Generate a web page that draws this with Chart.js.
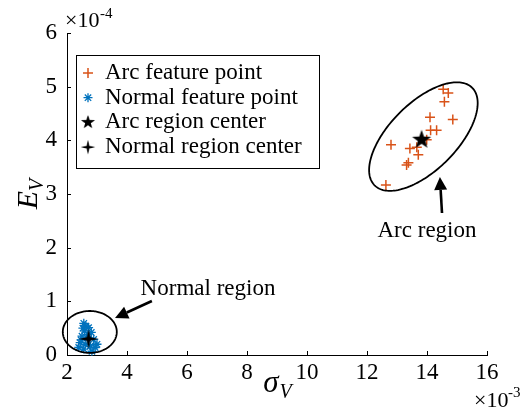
<!DOCTYPE html>
<html>
<head>
<meta charset="utf-8">
<script src="https://cdn.jsdelivr.net/npm/chart.js@4.4.0/dist/chart.umd.min.js"></script>
<style>
  html, body { margin: 0; padding: 0; background: #fff; }
  #wrap { width: 530px; height: 417px; }
</style>
</head>
<body>
<div id="wrap"><canvas id="c" width="530" height="417"></canvas></div>
<script>
// sigma_V in units of 1e-3, E_V in units of 1e-4
const arcSigma = [14.54, 14.71, 14.58, 14.10, 14.86, 14.12, 14.32, 13.99, 12.80, 13.43, 13.66, 13.71, 13.38, 13.32, 12.63];
const arcE     = [4.95, 4.88, 4.72, 4.43, 4.39, 4.19, 4.19, 4.01, 3.92, 3.85, 3.87, 3.73, 3.58, 3.54, 3.17];
const normalSigma = [2.56, 2.63, 2.72, 2.59, 2.81, 2.50, 2.67, 2.89, 2.44, 2.61, 2.39, 2.56, 2.78, 2.94, 3.00, 2.83, 2.53, 2.70, 2.47];
const normalE     = [0.59, 0.54, 0.51, 0.45, 0.42, 0.35, 0.32, 0.29, 0.23, 0.20, 0.14, 0.11, 0.17, 0.14, 0.20, 0.07, 0.50, 0.38, 0.28];
const arcCenter = [13.82, 4.01];
const normalCenter = [2.72, 0.30];
const xTicks = [2, 4, 6, 8, 10, 12, 14, 16];
const yTicks = [0, 1, 2, 3, 4, 5, 6];
const seriesLabels = ['Arc feature point', 'Normal feature point', 'Arc region center', 'Normal region center'];

const ORANGE = '#D95319';
const BLUE = '#0072BD';
const SERIF = '"Liberation Serif", "Times New Roman", serif';

// region outlines: centre plus two conjugate semi-diameters, in axis units
const regions = [
  { c: [13.88, 4.07], u: [1.627, 0.909], v: [-0.792, 0.443] },
  { c: [2.76, 0.43], u: [0.90, 0.0], v: [0.0, 0.39] }
];
const arrows = [
  { from: [4.83, 1.006], to: [3.60, 0.69] },
  { from: [14.50, 2.646], to: [14.43, 3.317] }
];
const notes = [
  { text: 'Normal region', at: [6.70, 1.23] },
  { text: 'Arc region', at: [14.00, 2.31] }
];

function starImage(points, outer, inner) {
  const s = Math.ceil(outer * 2 + 2);
  const cv = document.createElement('canvas');
  cv.width = cv.height = s;
  const g = cv.getContext('2d');
  g.translate(s / 2, s / 2);
  g.beginPath();
  for (let i = 0; i < points * 2; i++) {
    const r = i % 2 ? inner : outer;
    const a = -Math.PI / 2 + i * Math.PI / points;
    g.lineTo(r * Math.cos(a), r * Math.sin(a));
  }
  g.closePath();
  g.fillStyle = '#000';
  g.fill();
  return cv;
}
const pentagram = starImage(5, 10, 4);
const sparkle = starImage(4, 10, 2.6);

const toPts = (xs, ys) => xs.map((x, i) => ({ x: x, y: ys[i] }));

const overlay = {
  id: 'overlay',
  afterDraw(chart) {
    const ctx = chart.ctx;
    const xs = chart.scales.x, ys = chart.scales.y;
    const area = chart.chartArea;
    const X = v => xs.getPixelForValue(v), Y = v => ys.getPixelForValue(v);
    ctx.save();

    // inward tick marks
    ctx.strokeStyle = '#000';
    ctx.lineWidth = 1;
    ctx.beginPath();
    xTicks.forEach(v => { const p = Math.round(X(v)) + 0.5; ctx.moveTo(p, area.bottom); ctx.lineTo(p, area.bottom - 4); });
    yTicks.forEach(v => { const p = Math.round(Y(v)) + 0.5; ctx.moveTo(area.left, p); ctx.lineTo(area.left + 4, p); });
    ctx.stroke();

    // region outlines
    ctx.lineWidth = 1.8;
    regions.forEach(r => {
      ctx.beginPath();
      for (let i = 0; i <= 180; i++) {
        const t = i / 180 * Math.PI * 2;
        const dx = r.u[0] * Math.cos(t) + r.v[0] * Math.sin(t);
        const dy = r.u[1] * Math.cos(t) + r.v[1] * Math.sin(t);
        const px = X(r.c[0] + dx), py = Y(r.c[1] + dy);
        if (i === 0) ctx.moveTo(px, py); else ctx.lineTo(px, py);
      }
      ctx.closePath();
      ctx.stroke();
    });

    // arrows
    arrows.forEach(a => {
      const x0 = X(a.from[0]), y0 = Y(a.from[1]), x1 = X(a.to[0]), y1 = Y(a.to[1]);
      const ang = Math.atan2(y1 - y0, x1 - x0);
      const L = 13, W = 6.5;
      const bx = x1 - L * Math.cos(ang), by = y1 - L * Math.sin(ang);
      ctx.lineWidth = 2.6;
      ctx.beginPath();
      ctx.moveTo(x0, y0);
      ctx.lineTo(bx, by);
      ctx.stroke();
      ctx.beginPath();
      ctx.moveTo(x1, y1);
      ctx.lineTo(bx - W * Math.sin(ang), by + W * Math.cos(ang));
      ctx.lineTo(bx + W * Math.sin(ang), by - W * Math.cos(ang));
      ctx.closePath();
      ctx.fillStyle = '#000';
      ctx.fill();
    });

    // region notes
    ctx.fillStyle = '#000';
    ctx.font = '23px ' + SERIF;
    ctx.textAlign = 'center';
    ctx.textBaseline = 'middle';
    notes.forEach(n => ctx.fillText(n.text, X(n.at[0]), Y(n.at[1])));

    // legend
    const lx = area.left + 9, ly = area.top + 22, lw = 243, lh = 113;
    ctx.fillStyle = '#fff';
    ctx.fillRect(lx, ly, lw, lh);
    ctx.strokeStyle = '#000';
    ctx.lineWidth = 1;
    ctx.strokeRect(lx + 0.5, ly + 0.5, lw, lh);
    const legendRadius = [5, 4.5, 8, 8];
    chart.data.datasets.forEach((ds, i) => {
      const cy = ly + 18 + i * 24.7;
      const mx = lx + 12;
      ctx.save();
      ctx.strokeStyle = ds.borderColor;
      ctx.fillStyle = ds.backgroundColor;
      ctx.lineWidth = ds.borderWidth;
      if (ds.pointStyle instanceof HTMLCanvasElement) {
        const r = legendRadius[i];
        ctx.drawImage(ds.pointStyle, mx - r, cy - r, 2 * r, 2 * r);
      } else {
        Chart.helpers.drawPoint(ctx, { pointStyle: ds.pointStyle, rotation: 0, radius: legendRadius[i], borderWidth: ds.borderWidth }, mx, cy);
      }
      ctx.restore();
      ctx.fillStyle = '#000';
      ctx.font = '23px ' + SERIF;
      ctx.textAlign = 'left';
      ctx.textBaseline = 'middle';
      ctx.fillText(ds.label, lx + 29, cy);
    });

    // axis titles
    const cxm = (area.left + area.right) / 2;
    ctx.textAlign = 'left';
    ctx.textBaseline = 'alphabetic';
    ctx.font = 'italic 31px ' + SERIF;
    const sw = ctx.measureText('\u03C3').width;
    ctx.font = 'italic 20px ' + SERIF;
    const vw = ctx.measureText('V').width;
    let sx = cxm - (sw + vw) / 2;
    ctx.font = 'italic 31px ' + SERIF;
    ctx.fillText('\u03C3', sx, area.bottom + 37);
    ctx.font = 'italic 20px ' + SERIF;
    ctx.fillText('V', sx + sw + 1, area.bottom + 43);

    ctx.save();
    ctx.translate(area.left - 30, (area.top + area.bottom) / 2);
    ctx.rotate(-Math.PI / 2);
    ctx.font = 'italic 30px ' + SERIF;
    const ew = ctx.measureText('E').width;
    ctx.font = 'italic 20px ' + SERIF;
    const vw2 = ctx.measureText('V').width;
    const ex = -(ew + vw2) / 2;
    ctx.font = 'italic 30px ' + SERIF;
    ctx.fillText('E', ex, 0);
    ctx.font = 'italic 20px ' + SERIF;
    ctx.fillText('V', ex + ew, 6);
    ctx.restore();

    // exponent labels
    ctx.font = '22px ' + SERIF;
    ctx.fillText('\u00D710', area.left - 2, area.top - 6);
    ctx.font = '15px ' + SERIF;
    ctx.fillText('-4', area.left + 33, area.top - 15);
    ctx.font = '22px ' + SERIF;
    ctx.fillText('\u00D710', area.right - 13, area.bottom + 52);
    ctx.font = '15px ' + SERIF;
    ctx.fillText('-3', area.right + 21, area.bottom + 42);

    ctx.restore();
  }
};

const axisCommon = {
  grid: { drawOnChartArea: false, drawTicks: false },
  border: { display: true, color: '#000', width: 1 },
};

new Chart(document.getElementById('c'), {
  type: 'scatter',
  data: {
    datasets: [
      { label: seriesLabels[0], order: 3, data: toPts(arcSigma, arcE), pointStyle: 'cross', pointRadius: 5, borderWidth: 1.5, borderColor: ORANGE, backgroundColor: ORANGE, clip: false },
      { label: seriesLabels[1], order: 4, data: toPts(normalSigma, normalE), pointStyle: 'star', pointRadius: 4.5, borderWidth: 1.3, borderColor: BLUE, backgroundColor: BLUE, clip: false },
      { label: seriesLabels[2], order: 1, data: [{ x: arcCenter[0], y: arcCenter[1] }], pointStyle: pentagram, pointRadius: 10, borderWidth: 1, borderColor: '#000', backgroundColor: '#000', clip: false },
      { label: seriesLabels[3], order: 0, data: [{ x: normalCenter[0], y: normalCenter[1] }], pointStyle: sparkle, pointRadius: 10, borderWidth: 1, borderColor: '#000', backgroundColor: '#000', clip: false }
    ]
  },
  options: {
    responsive: false,
    devicePixelRatio: 1,
    animation: false,
    events: [],
    layout: { padding: { left: 0, right: 43, top: 33, bottom: 0 } },
    plugins: { legend: { display: false }, tooltip: { enabled: false } },
    scales: {
      x: Object.assign({
        type: 'linear', min: 2, max: 16,
        afterBuildTicks: s => { s.ticks = xTicks.map(v => ({ value: v })); },
        afterFit: s => { s.height = 62; },
        ticks: { font: { family: SERIF, size: 23 }, color: '#000', padding: 4, maxRotation: 0, autoSkip: false }
      }, axisCommon),
      y: Object.assign({
        type: 'linear', min: 0, max: 6,
        afterBuildTicks: s => { s.ticks = yTicks.map(v => ({ value: v })); },
        afterFit: s => { s.width = 67; },
        ticks: { font: { family: SERIF, size: 23 }, color: '#000', padding: 10, autoSkip: false }
      }, axisCommon)
    }
  },
  plugins: [overlay]
});
</script>
</body>
</html>
